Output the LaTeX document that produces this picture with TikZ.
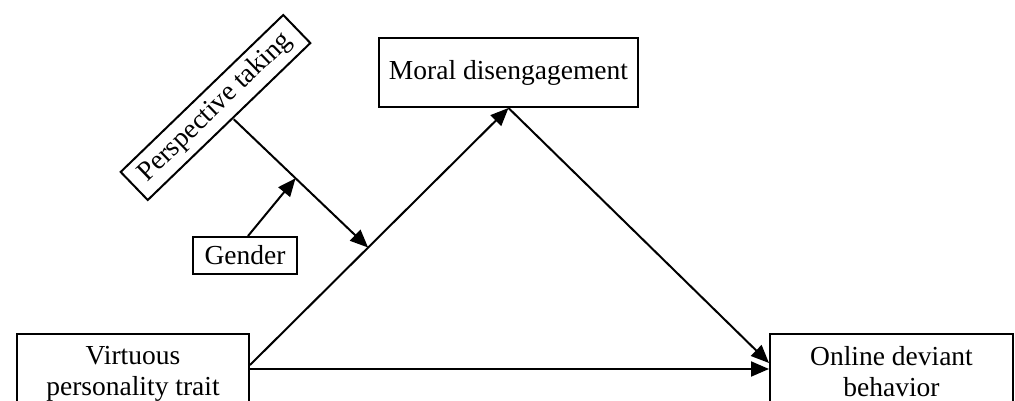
\documentclass[tikz,border=0pt]{standalone}
\usepackage{fontspec}
\setmainfont{Liberation Serif}
\usetikzlibrary{arrows.meta,calc}
\begin{document}
\begin{tikzpicture}[x=1pt,y=-1pt,
  every node/.style={font=\fontsize{27.5}{31}\selectfont},
  box/.style={draw,line width=2pt,inner xsep=6pt},
  conn/.style={line width=2pt,-{Triangle[length=18pt,width=15pt]}}]
\useasboundingbox (0,0) rectangle (1015,401);
\clip (0,0) rectangle (1015,401);
\node[box,anchor=north,minimum width=232pt,inner ysep=12pt,align=center] (V) at (133,333) {Virtuous\\personality trait};
\node[box,anchor=north,minimum width=243pt,inner ysep=12pt,align=center] (O) at (891.5,333) {Online deviant\\behavior};
\node[box,minimum width=259pt,minimum height=69pt] (M) at (508.5,72.5) {Moral disengagement};
\node[box,minimum width=104pt,minimum height=37pt,inner sep=2pt] (G) at (245,255.5) {Gender};
\node[box,minimum width=226pt,minimum height=39pt,inner sep=2pt,rotate=44] (P) at (215.5,107.5) {Perspective taking};
\draw[conn] ($(V.north east)+(0,32)$) -- coordinate[pos=0.457] (m1) (M.south);
\draw[conn] ($(V.north east)+(0,36)$) -- ($(O.north west)+(0,36)$);
\draw[conn] (M.south) -- ($(O.north west)+(0,30)$);
\draw[conn] ($(P.south)+(4,-3)$) -- coordinate[pos=0.46] (p1) (m1);
\draw[conn] ($(G.north)+(3,0)$) -- (p1);
\end{tikzpicture}
\end{document}
